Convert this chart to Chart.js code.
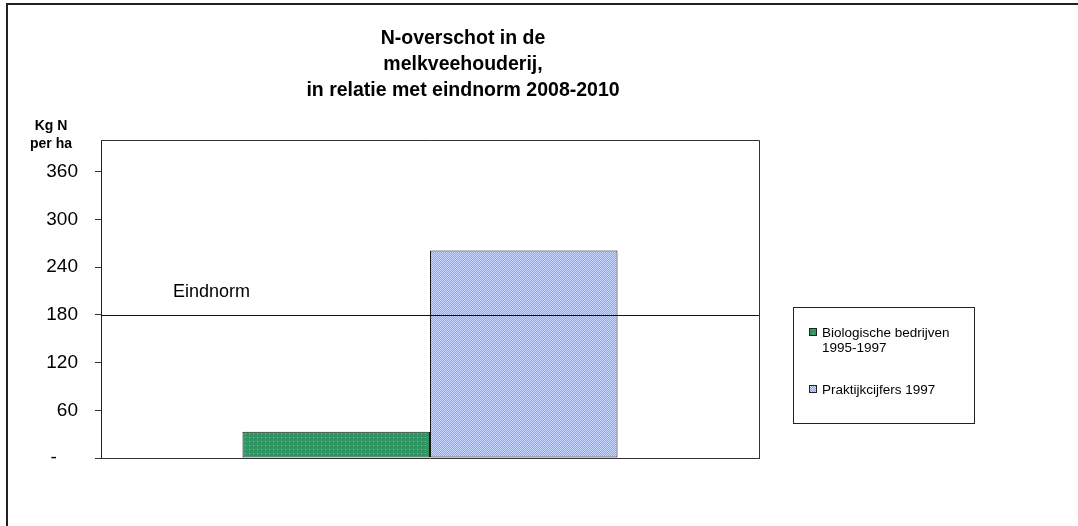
<!DOCTYPE html>
<html>
<head>
<meta charset="utf-8">
<script src="https://cdn.jsdelivr.net/npm/chart.js@4/dist/chart.umd.min.js"></script>
<style>
  html, body { margin: 0; padding: 0; background: #fff; }
  #wrap { position: relative; width: 1078px; height: 526px; }
</style>
</head>
<body>
<div id="wrap"><canvas id="barChart"></canvas></div>
<script>
// gegevens
const categories = [''];
const seriesLabels = [['Biologische bedrijven', '1995-1997'], 'Praktijkcijfers 1997'];
const bioValues = [33];
const praktijkValues = [261];
const eindnorm = [180];
const yTicks = [0, 60, 120, 180, 240, 300, 360];
const titleLines = ['N-overschot in de', 'melkveehouderij,', 'in relatie met eindnorm 2008-2010'];
const axisTitle = ['Kg N', 'per ha'];

const FONT = "'Liberation Sans', Arial, sans-serif";
Chart.defaults.font.family = FONT;
Chart.defaults.color = '#000';

// patroon voor de vlakken (Excel-achtige arcering)
function maakPatroon(size, base, dot, dots) {
    const c = document.createElement('canvas');
    c.width = size; c.height = size;
    const g = c.getContext('2d');
    g.fillStyle = base;
    g.fillRect(0, 0, size, size);
    g.fillStyle = dot;
    dots.forEach(p => g.fillRect(p[0], p[1], 1, 1));
    return g.createPattern(c, 'repeat');
}
const ctxBar = document.getElementById('barChart').getContext('2d');
const groen = maakPatroon(4, '#2f9663', '#72c49b', [[1, 1]]);
const blauw = maakPatroon(2, '#8aa3ff', '#cbd8ff', [[0, 0], [1, 1]]);

const kaderPlugin = {
    id: 'kader',
    afterDatasetsDraw(chart) {
        const { ctx, chartArea, scales } = chart;
        const y = Math.round(scales.y.getPixelForValue(eindnorm[0])) + 0.5;
        ctx.save();
        ctx.strokeStyle = '#111';
        ctx.lineWidth = 1;
        ctx.beginPath();
        ctx.moveTo(chartArea.left, y);
        ctx.lineTo(chartArea.right, y);
        ctx.stroke();
        ctx.fillStyle = '#000';
        ctx.font = '18px ' + FONT;
        ctx.textAlign = 'left';
        ctx.textBaseline = 'alphabetic';
        ctx.fillText('Eindnorm', 173, 297);
        ctx.restore();
    },
    afterDraw(chart) {
        const { ctx, chartArea } = chart;
        ctx.save();
        // buitenkader
        ctx.strokeStyle = '#222';
        ctx.lineWidth = 2;
        ctx.strokeRect(7, 4, 1100, 560);
        // plotkader boven en rechts
        ctx.lineWidth = 1;
        ctx.strokeStyle = '#333';
        ctx.beginPath();
        ctx.moveTo(chartArea.left, chartArea.top + 0.5);
        ctx.lineTo(chartArea.right + 0.5, chartArea.top + 0.5);
        ctx.lineTo(chartArea.right + 0.5, chartArea.bottom);
        ctx.stroke();

        // titel
        ctx.fillStyle = '#000';
        ctx.textAlign = 'center';
        ctx.textBaseline = 'alphabetic';
        ctx.font = 'bold 19.5px ' + FONT;
        titleLines.forEach((t, i) => ctx.fillText(t, 463, 44 + i * 26));

        // as-titel
        ctx.font = 'bold 14px ' + FONT;
        axisTitle.forEach((t, i) => ctx.fillText(t, 51, 130 + i * 18));

        // legenda
        ctx.strokeStyle = '#222';
        ctx.lineWidth = 1;
        ctx.strokeRect(793.5, 307.5, 181, 116);
        ctx.font = '13.5px ' + FONT;
        ctx.textAlign = 'left';
        const posities = [337, 394];
        chart.data.datasets.forEach((ds, i) => {
            const ty = posities[i];
            ctx.fillStyle = ds.backgroundColor;
            ctx.fillRect(809, ty - 9, 8, 8);
            ctx.strokeStyle = '#222';
            ctx.strokeRect(809.5, ty - 8.5, 7, 7);
            ctx.fillStyle = '#000';
            const regels = Array.isArray(ds.label) ? ds.label : [ds.label];
            regels.forEach((r, j) => ctx.fillText(r, 822, ty + j * 15));
        });
        ctx.restore();
    }
};

let chart = new Chart(ctxBar, {
    type: 'bar',
    data: {
        labels: categories,
        datasets: [{
            label: seriesLabels[0],
            data: bioValues,
            backgroundColor: groen,
            borderColor: '#1a1a1a',
            borderWidth: 1,
            borderSkipped: false
        }, {
            label: seriesLabels[1],
            data: praktijkValues,
            backgroundColor: blauw,
            borderColor: '#1a1a1a',
            borderWidth: 1,
            borderSkipped: false
        }]
    },
    options: {
        responsive: true,
        maintainAspectRatio: false,
        animation: false,
        layout: { padding: { left: 0, right: 319, top: 140, bottom: 68 } },
        datasets: { bar: { categoryPercentage: 0.57, barPercentage: 1.0 } },
        plugins: {
            legend: { display: false },
            title: { display: false },
            tooltip: { enabled: false }
        },
        scales: {
            x: {
                ticks: { display: false },
                grid: { display: false },
                border: { display: true, color: '#333', width: 1 },
                afterFit: (scale) => { scale.height = 0; }
            },
            y: {
                min: 0,
                max: 400,
                afterBuildTicks: (scale) => { scale.ticks = yTicks.map(v => ({ value: v })); },
                afterFit: (scale) => { scale.width = 101; },
                ticks: {
                    font: { size: 19 },
                    color: '#000',
                    padding: 17,
                    callback: (v) => v === 0 ? '-    ' : v
                },
                grid: { drawOnChartArea: false, drawTicks: true, tickLength: 6, color: '#333' },
                border: { display: true, color: '#222', width: 1 }
            }
        }
    },
    plugins: [kaderPlugin]
});
</script>
</body>
</html>
